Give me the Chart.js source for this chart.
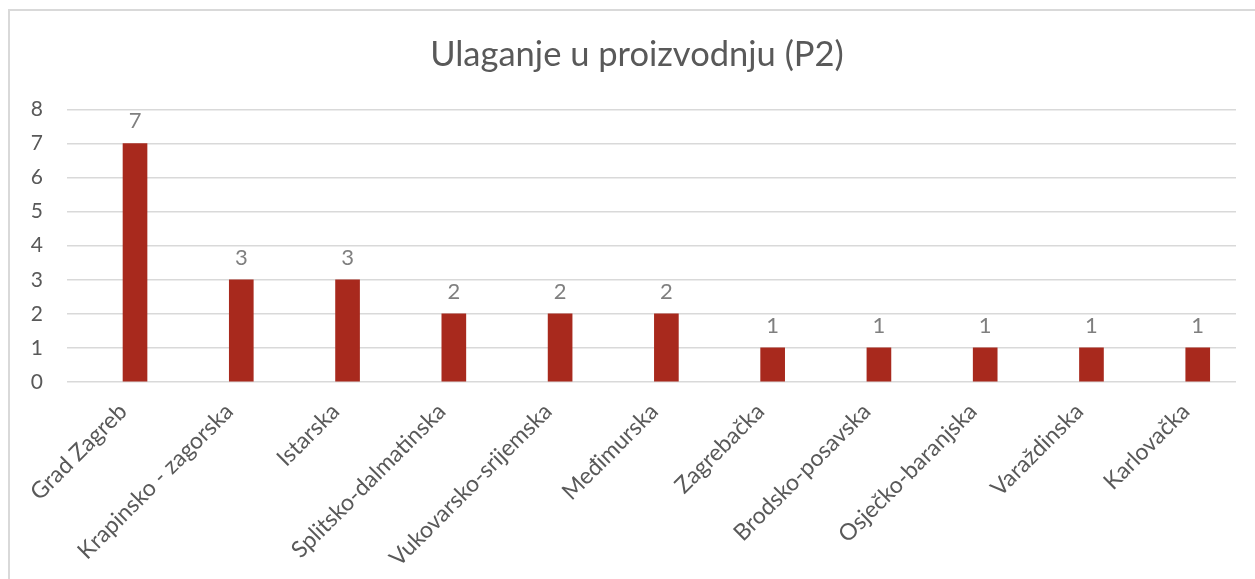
<!DOCTYPE html>
<html>
<head>
<meta charset="utf-8">
<script src="https://cdn.jsdelivr.net/npm/chart.js@4"></script>
<style>
  html, body { margin: 0; padding: 0; background: #fff; }
  .frame {
    position: absolute; left: 8px; top: 9px; width: 1247px; height: 570px;
    border-left: 2px solid #d9d9d9; border-top: 2px solid #d9d9d9;
  }
  .wrap { position: absolute; left: 0; top: 0; width: 1255px; height: 579px; }
</style>
</head>
<body>
<div class="frame"></div>
<div class="wrap"><canvas class="chart"></canvas></div>
<script>
const title = "Ulaganje u proizvodnju (P2)";
const counties = [
  "Grad Zagreb",
  "Krapinsko - zagorska",
  "Istarska",
  "Splitsko-dalmatinska",
  "Vukovarsko-srijemska",
  "Međimurska",
  "Zagrebačka",
  "Brodsko-posavska",
  "Osječko-baranjska",
  "Varaždinska",
  "Karlovačka",
];
const counts = [7, 3, 3, 2, 2, 2, 1, 1, 1, 1, 1];

Chart.defaults.font.family = "Lato";
Chart.defaults.color = "#595959";

// numbers above the bars
const barValues = {
  id: "barValues",
  afterDatasetsDraw(chart) {
    const ctx = chart.ctx;
    const meta = chart.getDatasetMeta(0);
    ctx.save();
    ctx.font = "22px Lato";
    ctx.fillStyle = "#7f7f7f";
    ctx.textAlign = "center";
    ctx.textBaseline = "alphabetic";
    meta.data.forEach((bar, i) => {
      ctx.fillText(String(counts[i]), bar.x, bar.y - 15);
    });
    ctx.restore();
  },
};

function makeChart() {
  const canvas = document.getElementsByClassName("chart")[0];

  const datasets = [
    {
      label: "Broj",
      data: counts.map((v, i) => ({ x: i, y: v })),
      backgroundColor: "#a8291d",
      barThickness: 24,
    },
  ];

  const options = {
    responsive: true,
    maintainAspectRatio: false,
    animation: false,
    // left padding keeps the title centred on the frame
    layout: { padding: { top: 0, right: 0, bottom: 0, left: 19 } },
    plugins: {
      legend: { display: false },
      tooltip: { enabled: false },
      title: {
        display: true,
        text: title,
        color: "#595959",
        font: { size: 34.5, weight: "normal" },
        padding: { top: 34, bottom: 34 },
      },
    },
    scales: {
      x: {
        type: "linear",
        offset: false,
        min: -0.64,
        max: 10.36,
        afterBuildTicks: (s) => {
          s.ticks = counties.map((_, i) => ({ value: i }));
        },
        afterFit: (s) => {
          s.height = 197;
        },
        grid: { display: false, offset: false },
        border: { display: false },
        ticks: {
          autoSkip: false,
          maxRotation: 45,
          minRotation: 45,
          padding: 8,
          labelOffset: -12,
          color: "#595959",
          font: { size: 23 },
          callback: (value) => counties[value],
        },
      },
      y: {
        min: 0,
        max: 8,
        afterFit: (s) => {
          s.width = 48;
        },
        grid: { color: "#d9d9d9", lineWidth: 1.5, drawTicks: false },
        border: { display: false },
        ticks: {
          stepSize: 1,
          padding: 24,
          color: "#595959",
          font: { size: 21 },
        },
      },
      // empty strip on the right so the plot ends where the reference does
      yRight: {
        position: "right",
        afterFit: (s) => {
          s.width = 19;
        },
        grid: { display: false },
        border: { display: false },
        ticks: { display: false },
      },
    },
  };

  new Chart(canvas, {
    type: "bar",
    data: { datasets: datasets },
    options: options,
    plugins: [barValues],
  });
}

makeChart();
</script>
</body>
</html>
